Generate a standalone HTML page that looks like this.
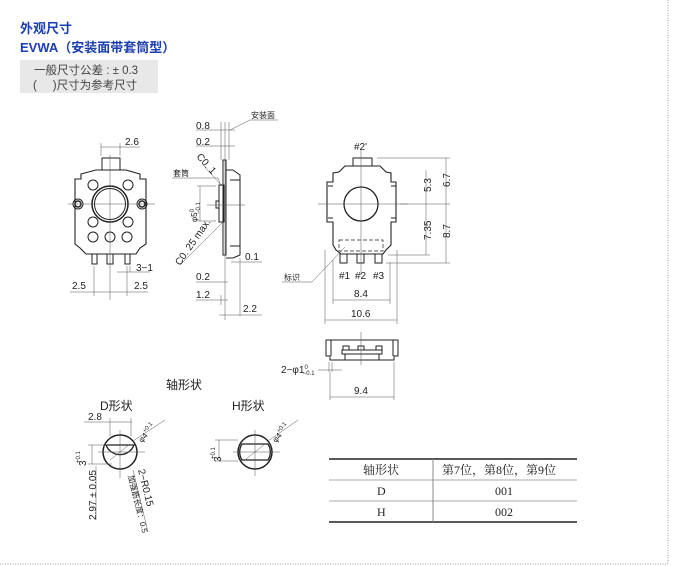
<!DOCTYPE html>
<html><head><meta charset="utf-8"><style>
html,body{margin:0;padding:0;background:#fff;}
svg{display:block;}
text{font-family:"Liberation Sans","Noto Sans CJK SC",sans-serif;fill:#222;}
.t{font-size:10px;}
.s{font-size:8px;}
</style></head><body>
<svg width="673" height="566" viewBox="0 0 673 566" xmlns="http://www.w3.org/2000/svg">
<line x1="668" y1="0" x2="668" y2="564" stroke="#999" stroke-dasharray="1,1.5"/>
<line x1="0" y1="564" x2="668" y2="564" stroke="#999" stroke-dasharray="1,1.5"/>
<text x="20" y="33" style="font-size:13px;font-weight:bold;fill:#1a3fb0">外观尺寸</text>
<text x="20" y="52" style="font-size:13px;font-weight:bold;fill:#1a3fb0">EVWA（安装面带套筒型）</text>
<rect x="20" y="60" width="138" height="33" fill="#e8e8e8"/>
<text x="34" y="74" style="font-size:11.5px;fill:#444">一般尺寸公差 : ± 0.3</text>
<text x="33" y="89" style="font-size:11.5px;fill:#444;white-space:pre" xml:space="preserve">(     )尺寸为参考尺寸</text>

<g fill="none" stroke="#222" stroke-width="1">
<rect x="102" y="158" width="18" height="12"/>
<path d="M96 170 L126 170 L140 174 L140 179 L146 179 L146 244 L140 248 L136 254 L86 254 L80 248 L75 244 L75 179 L81 179 L81 174 Z" stroke-width="1.1"/>
<circle cx="110" cy="204" r="18" stroke-width="1.5"/>
<circle cx="110" cy="204" r="15.5"/>
<circle cx="93" cy="185" r="5"/><circle cx="128" cy="185" r="5"/>
<circle cx="93" cy="222" r="5"/><circle cx="128" cy="222" r="5"/>
<circle cx="93" cy="237" r="5"/><circle cx="110" cy="237" r="5"/><circle cx="127" cy="237" r="5"/>
<circle cx="78" cy="204" r="5"/><circle cx="78" cy="204" r="3" stroke-width="1.5"/>
<circle cx="142" cy="204" r="5"/><circle cx="142" cy="204" r="3" stroke-width="1.5"/>
<rect x="92" y="254" width="5" height="10"/><rect x="107" y="254" width="6" height="10"/><rect x="125" y="254" width="5" height="10"/>
</g>
<g stroke="#555" stroke-width="0.5" fill="none">
<line x1="110" y1="155" x2="110" y2="300"/>
<line x1="68" y1="204" x2="155" y2="204"/>
<line x1="101" y1="143" x2="101" y2="156"/><line x1="120" y1="143" x2="120" y2="156"/>
<line x1="101" y1="147" x2="140" y2="147"/>
<line x1="94" y1="266" x2="94" y2="296"/><line x1="127" y1="266" x2="127" y2="296"/><line x1="130" y1="266" x2="130" y2="272"/>
<line x1="70" y1="292" x2="148" y2="292"/>
<line x1="117" y1="272" x2="150" y2="272"/>
</g>
<text class="t" x="125" y="145">2.6</text>
<text class="t" x="136" y="271">3−1</text>
<text class="t" x="72" y="289">2.5</text>
<text class="t" x="134" y="289">2.5</text>

<g fill="none" stroke="#222" stroke-width="1">
<path d="M223 160 L226 160 L226 255 L223 255 Z"/>
<path d="M226 170 L233 170 L240 175 L240 255 L233 258 L226 258"/>
<line x1="230" y1="180" x2="240" y2="180"/><line x1="230" y1="246" x2="240" y2="246"/>
<rect x="219" y="185" width="5" height="37"/>
<rect x="216" y="201" width="3" height="7"/>
</g>
<g stroke="#555" stroke-width="0.5" fill="none">
<line x1="225" y1="122" x2="225" y2="320"/><line x1="221" y1="122" x2="221" y2="160"/><line x1="229" y1="122" x2="229" y2="160"/>
<line x1="196" y1="130" x2="235" y2="130"/><line x1="196" y1="146" x2="235" y2="146"/>
<line x1="230" y1="130" x2="250" y2="120"/><line x1="250" y1="120" x2="278" y2="120"/>
<line x1="197" y1="186" x2="216" y2="186"/><line x1="197" y1="221" x2="216" y2="221"/><line x1="200" y1="186" x2="200" y2="221"/>
<line x1="203" y1="165" x2="222" y2="186"/>
<line x1="172" y1="178" x2="218" y2="178"/><line x1="218" y1="178" x2="221" y2="186"/>
<line x1="180" y1="265" x2="222" y2="223"/>
<line x1="207" y1="205" x2="245" y2="205"/>
<line x1="231" y1="262" x2="262" y2="262"/><line x1="240" y1="258" x2="240" y2="316"/>
<line x1="196" y1="282" x2="228" y2="282"/><line x1="196" y1="300" x2="228" y2="300"/>
<line x1="221" y1="295" x2="221" y2="305"/>
<line x1="219" y1="315" x2="262" y2="315"/>
</g>
<text class="t" x="196" y="129">0.8</text>
<text class="t" x="196" y="145">0.2</text>
<text class="s" x="251" y="118">安装面</text>
<text class="s" x="173" y="176">套筒</text>
<text class="t" transform="translate(196,157) rotate(48)">C0. 1</text>
<text class="t" transform="translate(180,266) rotate(-55)">C0. 25 max.</text>
<text class="s" transform="translate(197,222) rotate(-90)">φ5<tspan dy="-3" font-size="6">0</tspan><tspan dx="-5" dy="6" font-size="6">−0.1</tspan></text>
<text class="t" x="245" y="260">0.1</text>
<text class="t" x="196" y="280">0.2</text>
<text class="t" x="196" y="298">1.2</text>
<text class="t" x="243" y="312">2.2</text>

<g fill="none" stroke="#222" stroke-width="1">
<rect x="353" y="158" width="19" height="8"/>
<path d="M345 166 L380 166 L386 172 L391 173 L391 182 L396 182 L396 222 L391 222 L391 245 L386 250 L383 254 L341 254 L336 250 L333 245 L333 222 L327 222 L327 182 L333 182 L333 173 L339 172 Z" stroke-width="1.1"/>
<line x1="328" y1="186" x2="333" y2="186"/><line x1="391" y1="186" x2="396" y2="186"/>
<line x1="328" y1="218" x2="333" y2="218"/><line x1="391" y1="218" x2="396" y2="218"/>
<circle cx="361" cy="204" r="17" stroke-width="1.3"/>
<rect x="340" y="254" width="7" height="9"/><rect x="357" y="254" width="7" height="9"/><rect x="375" y="254" width="7" height="9"/>
<rect x="339" y="240" width="44" height="11" stroke-dasharray="4,2" stroke-width="0.7"/>
<path d="M326 340 L398 340 L398 356 L394 356 L394 360 L330 360 L330 356 L326 356 Z"/>
<line x1="331" y1="340" x2="331" y2="356"/><line x1="393" y1="340" x2="393" y2="356"/>
<rect x="342" y="350" width="40" height="4"/>
<rect x="343" y="346" width="6" height="4"/><rect x="358" y="346" width="6" height="4"/><rect x="376" y="346" width="6" height="4"/>
<rect x="345" y="354" width="34" height="6"/>
</g>
<g stroke="#555" stroke-width="0.5" fill="none">
<line x1="361" y1="150" x2="361" y2="275"/>
<line x1="318" y1="204" x2="408" y2="204"/>
<line x1="377" y1="158" x2="450" y2="158"/><line x1="446" y1="158" x2="446" y2="263"/>
<line x1="400" y1="204" x2="450" y2="204"/><line x1="426" y1="170" x2="426" y2="255"/>
<line x1="388" y1="255" x2="430" y2="255"/><line x1="386" y1="263" x2="450" y2="263"/>
<line x1="333" y1="260" x2="333" y2="304"/><line x1="390" y1="262" x2="390" y2="304"/>
<line x1="333" y1="300" x2="390" y2="300"/>
<line x1="325" y1="250" x2="325" y2="324"/><line x1="397" y1="250" x2="397" y2="324"/>
<line x1="325" y1="320" x2="397" y2="320"/>
<line x1="345" y1="247" x2="312" y2="282"/><line x1="312" y1="282" x2="282" y2="282"/>
<line x1="361" y1="332" x2="361" y2="365"/>
<line x1="329" y1="362" x2="329" y2="372"/><line x1="332" y1="362" x2="332" y2="372"/>
<line x1="318" y1="370" x2="342" y2="370"/>
<line x1="330" y1="372" x2="330" y2="400"/><line x1="394" y1="362" x2="394" y2="400"/>
<line x1="330" y1="397" x2="394" y2="397"/>
</g>
<text class="t" x="354" y="150">#2'</text>
<text class="t" transform="translate(431,192) rotate(-90)">5.3</text>
<text class="t" transform="translate(450,187) rotate(-90)">6.7</text>
<text class="t" transform="translate(431,240) rotate(-90)">7.35</text>
<text class="t" transform="translate(450,238) rotate(-90)">8.7</text>
<text class="t" x="339" y="279">#1</text><text class="t" x="355" y="279">#2</text><text class="t" x="373" y="279">#3</text>
<text class="s" x="284" y="280">标识</text>
<text class="t" x="354" y="297">8.4</text>
<text class="t" x="351" y="317">10.6</text>
<text class="t" x="281" y="373">2−φ1<tspan dy="-4" font-size="6">0</tspan><tspan dx="-5" dy="6" font-size="6">−0.1</tspan></text>
<text class="t" x="354" y="394">9.4</text>

<text x="166" y="389" style="font-size:12px">轴形状</text>
<text x="100" y="410" style="font-size:12px">D形状</text>
<text x="232" y="410" style="font-size:12px">H形状</text>
<g fill="none" stroke="#222">
<circle cx="120" cy="452" r="17" stroke-width="1.5"/>
<path d="M106 445 L134 445 A15 15 0 0 1 106 445 Z" stroke-width="1.3"/>
<circle cx="255" cy="452" r="17" stroke-width="1.5"/>
<path d="M242 444 L268 444 A15 15 0 0 1 268 460 L242 460 A15 15 0 0 1 242 444 Z" stroke-width="1.3"/>
</g>
<g stroke="#555" stroke-width="0.5" fill="none">
<line x1="120" y1="430" x2="120" y2="478"/><line x1="98" y1="452" x2="145" y2="452"/>
<line x1="255" y1="430" x2="255" y2="476"/><line x1="233" y1="452" x2="280" y2="452"/>
<line x1="110" y1="460" x2="130" y2="444"/><line x1="245" y1="460" x2="265" y2="444"/>
<line x1="84" y1="422" x2="132" y2="422"/><line x1="110" y1="418" x2="110" y2="436"/><line x1="131" y1="418" x2="131" y2="436"/>
<line x1="88" y1="445" x2="108" y2="445"/><line x1="88" y1="464" x2="112" y2="464"/><line x1="92" y1="445" x2="92" y2="464"/>
<line x1="96" y1="466" x2="96" y2="520"/>
<line x1="133" y1="441" x2="165" y2="420"/><line x1="268" y1="441" x2="298" y2="420"/>
<line x1="133" y1="470" x2="148" y2="532"/>
<line x1="215" y1="440" x2="238" y2="440"/><line x1="215" y1="461" x2="238" y2="461"/><line x1="219" y1="440" x2="219" y2="461"/>
</g>
<text class="t" x="88" y="420">2.8</text>
<text class="s" transform="translate(142,443) rotate(-50)">φ4<tspan dy="-4" font-size="6">+0.1</tspan></text>
<text class="s" transform="translate(276,443) rotate(-50)">φ4<tspan dy="-4" font-size="6">+0.1</tspan></text>
<text class="t" transform="translate(86,466) rotate(-90)">3</text>
<text style="font-size:6px" transform="translate(80,463) rotate(-90)">+0.1</text>
<text class="t" transform="translate(221,462) rotate(-90)">3</text>
<text style="font-size:6px" transform="translate(215,459) rotate(-90)">+0.1</text>
<text class="t" transform="translate(96,520) rotate(-90)">2.97 ± 0.05</text>
<text class="t" transform="translate(138,470) rotate(76)">2−R0.15</text>
<text class="s" transform="translate(128,476) rotate(76)">加强筋长度：0.5</text>

<g stroke="#222">
<line x1="329" y1="459" x2="577" y2="459" stroke-width="1.6"/>
<line x1="329" y1="480" x2="577" y2="480" stroke="#aaa"/>
<line x1="329" y1="501" x2="577" y2="501" stroke="#aaa"/>
<line x1="329" y1="522" x2="577" y2="522" stroke-width="1.6"/>
<line x1="433" y1="459" x2="433" y2="522" stroke="#888"/>
</g>
<text x="363" y="474" style="font-family:'Liberation Serif','Noto Serif CJK SC',serif;font-size:12px">轴形状</text>
<text x="442" y="474" style="font-family:'Liberation Serif','Noto Serif CJK SC',serif;font-size:12px">第7位，第8位，第9位</text>
<text x="377" y="495" style="font-family:'Liberation Serif',serif;font-size:12px">D</text>
<text x="495" y="495" style="font-family:'Liberation Serif',serif;font-size:12px">001</text>
<text x="377" y="516" style="font-family:'Liberation Serif',serif;font-size:12px">H</text>
<text x="495" y="516" style="font-family:'Liberation Serif',serif;font-size:12px">002</text>
</svg>
</body></html>
